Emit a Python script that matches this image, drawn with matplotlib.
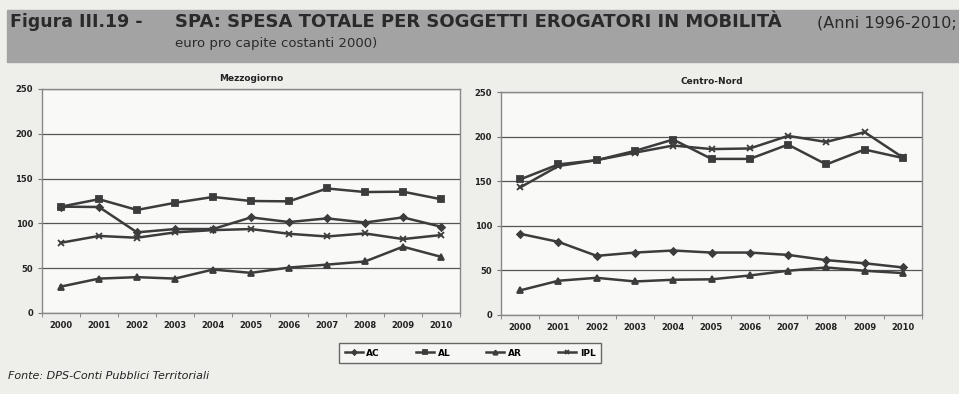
import numpy as np
import matplotlib.pyplot as plt
from matplotlib.patches import Rectangle

anni = ["2000", "2001", "2002", "2003", "2004", "2005", "2006", "2007", "2008", "2009", "2010"]

# Mezzogiorno
mz_ac = [118.7, 118.3, 90, 93.7, 93.7, 106.7, 101.5, 105.6, 101, 106.7, 96.3]
mz_al = [118.7, 127, 115, 123, 129.5, 125, 124.6, 139, 135, 135.4, 127]
mz_ar = [29.5, 38.4, 40, 38.4, 48.5, 44.8, 50.7, 54, 57.5, 74, 62.7]
mz_ipl = [78.4, 86, 84, 90, 92.5, 93.7, 88.4, 85.4, 88.8, 82.5, 87]

# Centro-Nord
cn_ac = [91, 82, 66.3, 70, 72.3, 70, 70, 67.4, 61.5, 58, 53.3]
cn_al = [152, 168.8, 173.6, 184, 196.7, 175, 175, 191, 168.8, 185.5, 176]
cn_ar = [27.6, 38.4, 41.7, 37.6, 39.5, 40, 44.3, 49.6, 53.3, 49.6, 47]
cn_ipl = [143, 167, 173.6, 182, 190, 186, 186.7, 200.8, 194, 205, 176.6]

W, H = 959, 394
fig = plt.figure(figsize=(W / 100, H / 100), dpi=100)
fig.patch.set_facecolor("#eeeeeb")
plt.rcParams["font.family"] = ["DejaVu Sans"]

# banner del titolo
fig.add_artist(Rectangle((7 / W, 1 - 62 / H), 1 - 7 / W, 52 / H,
                         transform=fig.transFigure, color="#a3a3a3", zorder=0))
fig.text(10 / W, 1 - 22 / H, "Figura III.19 -", fontsize=12.5, fontweight="bold",
         color="#2a2a2a", va="center")
fig.text(175 / W, 1 - 22 / H, "SPA: SPESA TOTALE PER SOGGETTI EROGATORI IN MOBILITÀ",
         fontsize=13, fontweight="bold", color="#2a2a2a", va="center")
fig.text(957 / W, 1 - 23 / H, "(Anni 1996-2010;", fontsize=11.5, color="#2a2a2a",
         va="center", ha="right")
fig.text(175 / W, 1 - 43 / H, "euro pro capite costanti 2000)", fontsize=9.5,
         color="#2a2a2a", va="center")

col = "#3c3c3c"
stili = [("AC", "D", 3.5), ("AL", "s", 4.5), ("AR", "^", 4.5), ("IPL", "x", 5)]


def pannello(rect, titolo, serie):
    ax = fig.add_axes(rect)
    ax.set_facecolor("#f9f9f7")
    x = np.arange(len(anni))
    linee = []
    for (nome, mk, ms), y in zip(stili, serie):
        ln, = ax.plot(x, y, color=col, lw=1.8, marker=mk, ms=ms, mew=1.3, label=nome)
        linee.append(ln)
    ax.set_xlim(-0.5, len(anni) - 0.5)
    ax.set_ylim(0, 250)
    ax.set_yticks([0, 50, 100, 150, 200, 250])
    ax.set_xticks(x)
    ax.set_xticklabels(anni)
    ax.set_xticks(np.arange(-0.5, len(anni)), minor=True)
    ax.tick_params(axis="x", which="major", length=0, labelsize=6, pad=6)
    ax.tick_params(axis="x", which="minor", length=3, color="#777777")
    ax.tick_params(axis="y", length=3, labelsize=6, color="#777777")
    for lab in ax.get_xticklabels() + ax.get_yticklabels():
        lab.set_fontweight("bold")
        lab.set_color("#222222")
    ax.grid(axis="y", color="#555555", lw=0.9)
    ax.set_axisbelow(True)
    for s in ax.spines.values():
        s.set_color("#888888")
        s.set_linewidth(1)
    ax.set_title(titolo, fontsize=6.5, fontweight="bold", color="#222222", pad=6)
    return linee


linee = pannello([42 / W, 81 / H, 418 / W, 224 / H], "Mezzogiorno", [mz_ac, mz_al, mz_ar, mz_ipl])
pannello([501 / W, 79 / H, 421 / W, 223 / H], "Centro-Nord", [cn_ac, cn_al, cn_ar, cn_ipl])

leg = fig.legend(handles=linee, loc="center", bbox_to_anchor=(470 / W, 1 - 353 / H),
                 ncol=4, fontsize=6.5, frameon=True, fancybox=False, handlelength=2,
                 columnspacing=4, borderpad=0.6, borderaxespad=0, markerscale=0.7,
                 handletextpad=0.4)
leg.get_frame().set_edgecolor("#444444")
leg.get_frame().set_facecolor("#f9f9f7")
leg.get_frame().set_linewidth(1)
for tx in leg.get_texts():
    tx.set_fontweight("bold")

fig.text(8 / W, 1 - 376 / H, "Fonte: DPS-Conti Pubblici Territoriali", fontsize=8,
         style="italic", color="#222222", va="center")

fig.savefig("out.png", dpi=100, facecolor=fig.get_facecolor())
